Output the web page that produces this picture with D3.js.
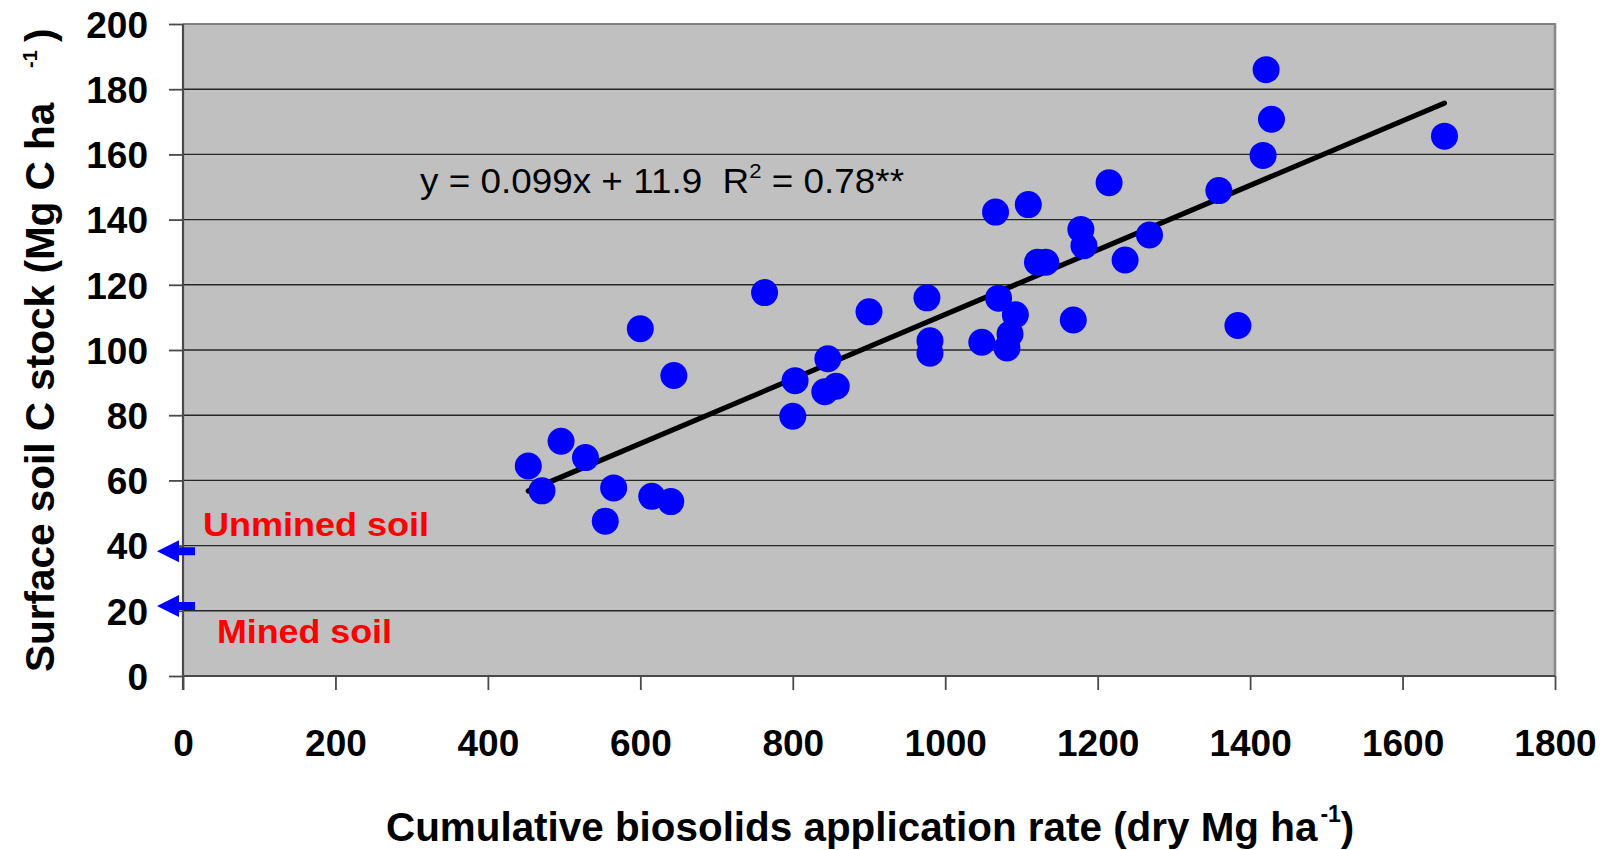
<!DOCTYPE html>
<html>
<head>
<meta charset="utf-8">
<script src="https://cdn.jsdelivr.net/npm/d3@7/dist/d3.min.js"></script>
<style>
  html, body { margin: 0; padding: 0; background: #ffffff; }
  svg { display: block; }
  text { font-family: "Liberation Sans", Arial, Helvetica, sans-serif; }
</style>
</head>
<body>
<svg id="chart" width="1612" height="850"></svg>
<script>
// Cumulative biosolids application rate (dry Mg/ha) for each plot
const appRate = [453, 471, 496, 528, 554, 565, 600, 615, 640, 644,
                 763, 800, 803, 842, 846, 857, 900, 976, 980, 980,
                 1048, 1066, 1070, 1081, 1085, 1092, 1109, 1121, 1132, 1168,
                 1178, 1182, 1215, 1236, 1268, 1359, 1384, 1417, 1421, 1428, 1655];
// Surface soil C stock (Mg C/ha) for each plot
const cStock = [64.4, 56.8, 72.0, 67.0, 47.5, 57.7, 106.5, 55.1, 53.5, 92.2,
                117.6, 79.7, 90.6, 87.2, 97.3, 88.9, 111.7, 116.0, 102.8, 99.0,
                102.4, 142.3, 115.9, 100.6, 104.9, 110.8, 144.6, 126.9, 126.9, 109.2,
                137.0, 132.0, 151.3, 127.6, 135.3, 148.9, 107.5, 159.7, 186.0, 170.8, 165.6];

// Linear fit y = slope * x + intercept
const slope = 0.099;
const intercept = 11.9;

// Reference C stocks marked on the y axis
const refLabels = ["Unmined soil", "Mined soil"];
const refValues = [38.3, 21.5];

const xTicks = [0, 200, 400, 600, 800, 1000, 1200, 1400, 1600, 1800];
const yTicks = [0, 20, 40, 60, 80, 100, 120, 140, 160, 180, 200];

const svg = d3.select("#chart");
const plot = { left: 183, top: 24, right: 1555, bottom: 676 };

const x = d3.scaleLinear().domain([0, 1800]).range([plot.left, plot.right]);
const y = d3.scaleLinear().domain([0, 200]).range([plot.bottom, plot.top]);

// plot background
svg.append("rect")
  .attr("x", plot.left).attr("y", plot.top)
  .attr("width", plot.right - plot.left).attr("height", plot.bottom - plot.top)
  .attr("fill", "#c0c0c0");

// horizontal gridlines
svg.append("g")
  .selectAll("line")
  .data(yTicks.filter(v => v > 0 && v < 200))
  .join("line")
  .attr("x1", plot.left).attr("x2", plot.right)
  .attr("y1", d => y(d)).attr("y2", d => y(d))
  .attr("stroke", "#262626").attr("stroke-width", 1.4);

// frame: top and right in grey
svg.append("line")
  .attr("x1", plot.left).attr("x2", plot.right)
  .attr("y1", plot.top).attr("y2", plot.top)
  .attr("stroke", "#808080").attr("stroke-width", 2.2);
svg.append("line")
  .attr("x1", plot.right).attr("x2", plot.right)
  .attr("y1", plot.top - 1).attr("y2", plot.bottom)
  .attr("stroke", "#8a8a8a").attr("stroke-width", 2.6);

// axes
const xAxis = d3.axisBottom(x).tickValues(xTicks).tickSize(14).tickPadding(0).tickFormat(d3.format("d"));
const yAxis = d3.axisLeft(y).tickValues(yTicks).tickSize(14).tickPadding(0).tickFormat(d3.format("d"));

const gx = svg.append("g").attr("transform", `translate(0,${plot.bottom})`).call(xAxis);
const gy = svg.append("g").attr("transform", `translate(${plot.left},0)`).call(yAxis);

[gx, gy].forEach(g => {
  g.select(".domain").attr("stroke", "#4a4a4a").attr("stroke-width", 2.2);
  g.selectAll(".tick line").attr("stroke", "#4a4a4a").attr("stroke-width", 1.8);
  g.selectAll(".tick text")
    .attr("fill", "#000")
    .attr("font-size", 37)
    .attr("font-weight", "bold")
    .attr("font-family", "'Liberation Sans', Arial, sans-serif");
});
gx.select(".domain").attr("d", `M${plot.left},0H${plot.right}`);
gy.select(".domain").attr("d", `M0,${plot.bottom + 14}V${plot.top}`);
gx.selectAll(".tick text").attr("y", 80).attr("dy", 0);
gy.selectAll(".tick text").attr("x", -35).attr("dy", "0.36em");

// regression line across the range of the data
const xr = d3.extent(appRate);
svg.append("path")
  .datum(xr.map(v => [v, slope * v + intercept]))
  .attr("d", d3.line().x(d => x(d[0])).y(d => y(d[1])))
  .attr("fill", "none").attr("stroke", "#000").attr("stroke-width", 5.2)
  .attr("stroke-linecap", "round");

// data points
svg.append("g")
  .selectAll("circle")
  .data(appRate.map((v, i) => [v, cStock[i]]))
  .join("circle")
  .attr("cx", d => x(d[0])).attr("cy", d => y(d[1]))
  .attr("r", 13.5)
  .attr("fill", "#0000ff");

// equation label
const eq = svg.append("text")
  .attr("x", 420).attr("y", 193)
  .attr("font-size", 35).attr("fill", "#000")
  .attr("textLength", 484).attr("lengthAdjust", "spacingAndGlyphs");
eq.append("tspan").text("y = 0.099x + 11.9\u00a0\u00a0R");
eq.append("tspan").attr("font-size", 21).attr("dy", -15).text("2");
eq.append("tspan").attr("dy", 15).text(" = 0.78**");

// reference arrows on the y axis
const arrows = svg.append("g");
refValues.forEach(v => {
  const cy = y(v);
  arrows.append("path")
    .attr("d", `M157,${cy} L179,${cy - 11} L179,${cy - 4} L195,${cy - 4} L195,${cy + 4} L179,${cy + 4} L179,${cy + 11} Z`)
    .attr("fill", "#0000ff");
});

// reference labels
svg.append("text")
  .attr("x", 203).attr("y", y(refValues[0]) - 15)
  .attr("font-size", 33).attr("font-weight", "bold").attr("fill", "#ff0000")
  .attr("textLength", 226).attr("lengthAdjust", "spacingAndGlyphs")
  .text(refLabels[0]);
svg.append("text")
  .attr("x", 217).attr("y", y(refValues[1]) + 37)
  .attr("font-size", 33).attr("font-weight", "bold").attr("fill", "#ff0000")
  .attr("textLength", 175).attr("lengthAdjust", "spacingAndGlyphs")
  .text(refLabels[1]);

// x axis title
const xt = svg.append("text")
  .attr("x", 386).attr("y", 841)
  .attr("font-size", 40.4).attr("font-weight", "bold").attr("fill", "#000");
xt.append("tspan").text("Cumulative biosolids application rate (dry Mg ha");
xt.append("tspan").attr("font-size", 23).attr("dx", 3).attr("dy", -19).text("-1");
xt.append("tspan").attr("dy", 19).text(")");

// y axis title
const yt = svg.append("text")
  .attr("transform", "translate(53.5,672) rotate(-90)")
  .attr("font-size", 40.5).attr("font-weight", "bold").attr("fill", "#000");
yt.append("tspan").attr("x", 0).attr("y", 0).text("Surface soil C stock (Mg C ha");
yt.append("tspan").attr("x", 604).attr("y", -17).attr("font-size", 20).text("-1");
yt.append("tspan").attr("x", 630).attr("y", 0).text(")");
</script>
</body>
</html>
